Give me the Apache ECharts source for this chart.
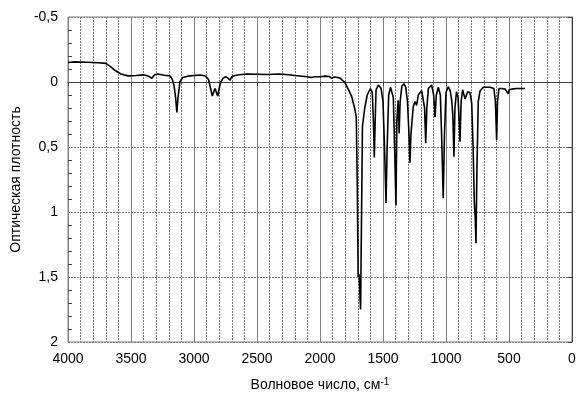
<!DOCTYPE html>
<html>
<head>
<meta charset="utf-8">
<script src="https://cdn.jsdelivr.net/npm/echarts@6/dist/echarts.min.js"></script>
<style>
html,body{margin:0;padding:0;background:#fff;}
#chart{width:583px;height:415px;}
</style>
</head>
<body>
<div id="chart"></div>
<script>
const wavenumbers = [4000,3950,3850,3760,3700,3665,3625,3580,3525,3460,3400,3360,3336,3312,3290,3235,3190,3172,3158,3146,3136,3127,3112,3090,3050,3000,2950,2910,2885,2866,2855,2845,2833,2822,2812,2800,2788,2770,2748,2730,2714,2700,2680,2640,2580,2500,2420,2320,2250,2200,2160,2100,2070,2056,2040,2000,1960,1925,1907,1890,1868,1840,1828,1802,1775,1749,1722,1712,1704,1697,1690,1678,1670,1663,1645,1625,1600,1585,1576,1569,1562,1555,1537,1515,1500,1488,1476,1467,1455,1440,1428,1418,1408,1397,1390,1380,1372,1364,1350,1333,1320,1306,1296,1286,1278,1260,1246,1233,1220,1193,1180,1170,1161,1152,1140,1114,1098,1087,1077,1061,1045,1035,1022,1012,1000,982,966,955,946,937,929,917,904,889,880,868,849,828,810,796,785,775,768,762,755,744,730,704,680,650,620,608,598,591,580,560,530,515,506,498,480,440,400,373];
const absorbance = [-0.150,-0.155,-0.152,-0.148,-0.143,-0.120,-0.088,-0.062,-0.047,-0.050,-0.055,-0.045,-0.028,-0.055,-0.062,-0.052,-0.046,-0.020,0.030,0.120,0.235,0.120,0.000,-0.035,-0.045,-0.050,-0.054,-0.046,-0.020,0.060,0.108,0.080,0.050,0.080,0.108,0.050,0.000,-0.028,-0.040,-0.030,-0.015,-0.040,-0.048,-0.056,-0.062,-0.060,-0.058,-0.062,-0.056,-0.050,-0.046,-0.040,-0.035,-0.026,-0.040,-0.040,-0.045,-0.042,-0.028,-0.038,-0.036,-0.030,-0.025,0.005,0.056,0.110,0.215,0.270,0.800,1.500,1.480,1.750,1.000,0.340,0.200,0.100,0.050,0.080,0.300,0.580,0.300,0.060,0.023,0.050,0.150,0.500,0.930,0.500,0.100,0.040,0.045,0.120,0.500,0.950,0.300,0.140,0.395,0.150,0.030,0.015,0.040,0.150,0.350,0.620,0.400,0.190,0.150,0.180,0.100,0.067,0.075,0.200,0.470,0.200,0.050,0.023,0.100,0.270,0.100,0.040,0.100,0.400,0.895,0.400,0.080,0.036,0.070,0.140,0.250,0.575,0.200,0.075,0.120,0.460,0.150,0.060,0.130,0.075,0.080,0.160,0.500,0.930,1.050,1.240,0.700,0.150,0.070,0.040,0.040,0.040,0.050,0.150,0.446,0.150,0.050,0.050,0.055,0.070,0.090,0.060,0.055,0.050,0.050,0.050];
const xTitle = 'Волновое число, см';
const xTitleSup = '-1';
const yTitle = 'Оптическая плотность';

const chart = echarts.init(document.getElementById('chart'));
const fontFamily = 'Liberation Sans, Arial, sans-serif';
chart.setOption({
  animation: false,
  backgroundColor: '#ffffff',
  grid: {left: 68, right: 11, top: 17, bottom: 73, show: true, borderColor: '#808080', borderWidth: 1},
  xAxis: {
    type: 'value', min: 0, max: 4000, interval: 500, inverse: true,
    name: '{a|' + xTitle + '}{s|' + xTitleSup + '}',
    nameLocation: 'middle', nameGap: 35,
    nameTextStyle: {rich: {
      a: {fontFamily: fontFamily, fontSize: 14, color: '#000', lineHeight: 17},
      s: {fontFamily: fontFamily, fontSize: 10, color: '#000', lineHeight: 10, verticalAlign: 'top'}
    }},
    axisLine: {lineStyle: {color: '#404040', width: 1}},
    axisTick: {show: true, length: 4, lineStyle: {color: '#404040'}},
    minorTick: {show: false},
    axisLabel: {fontFamily: fontFamily, fontSize: 14, color: '#000', margin: 10,
      formatter: v => String(v)},
    splitLine: {show: true, lineStyle: {color: '#808080', width: 1, type: 'solid'}},
    minorSplitLine: {show: true, lineStyle: {color: '#808080', width: 1, type: [2, 1]}}
  },
  yAxis: [{
    type: 'value', min: -0.5, max: 2, interval: 0.5, inverse: true,
    name: yTitle, nameLocation: 'middle', nameGap: 45, nameRotate: 90,
    nameTextStyle: {fontFamily: fontFamily, fontSize: 14, color: '#000'},
    axisLine: {show: true, lineStyle: {color: '#404040', width: 1}},
    axisTick: {show: true, length: 4, lineStyle: {color: '#404040'}},
    minorTick: {show: false},
    axisLabel: {fontFamily: fontFamily, fontSize: 14, color: '#000', margin: 10,
      formatter: v => String(v).replace('.', ',')},
    splitLine: {show: true, lineStyle: {color: '#808080', width: 1, type: [2, 1]}},
    minorSplitLine: {show: false}
  }, {
    type: 'value', min: -0.5, max: 2, interval: 0.5, inverse: true, position: 'left',
    axisLine: {show: false},
    axisTick: {show: true, inside: true, length: 0, lineStyle: {color: '#404040'}},
    minorTick: {show: true, splitNumber: 5, length: 4, lineStyle: {color: '#404040'}},
    axisLabel: {show: false},
    splitLine: {show: false},
    minorSplitLine: {show: false}
  }],
  series: [{
    type: 'line',
    data: wavenumbers.map((w, i) => [w, absorbance[i]]),
    showSymbol: false, symbol: 'none',
    lineStyle: {color: '#000', width: 1.6},
    z: 5
  }]
});
</script>
</body>
</html>
